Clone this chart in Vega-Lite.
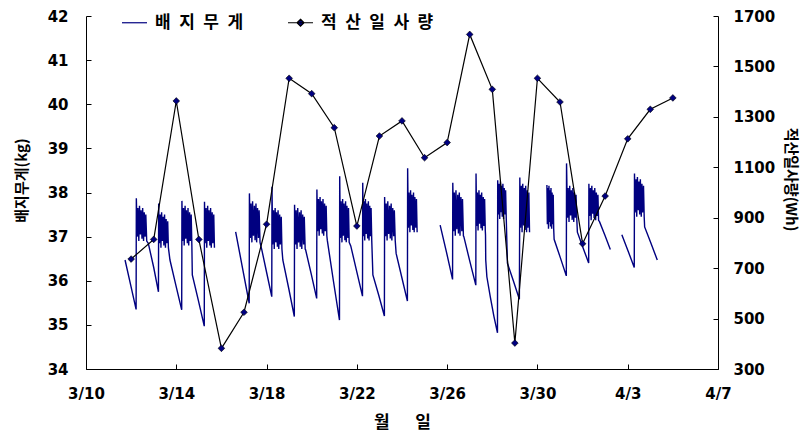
{
  "$schema": "https://vega.github.io/schema/vega-lite/v6.json",
  "autosize": {"type": "none"},
  "padding": {"left": 86, "top": 16, "right": 88, "bottom": 66},
  "width": 632,
  "height": 353,
  "background": "white",
  "config": {
    "view": {"stroke": null},
    "axis": {"grid": false, "domainColor": "#000", "tickColor": "#000", "labelColor": "#000", "titleColor": "#000", "domainWidth": 1, "tickWidth": 1}
  },
  "datasets": {
    "weight": [
      {"d":11.73,"w":36.47,"s":1},{"d":11.98,"w":35.9,"s":1},{"d":12.22,"w":35.35,"s":1},
      {"d":12.23,"w":37.87,"s":1},{"d":12.27,"w":37.0,"s":1},{"d":12.30,"w":37.65,"s":1},{"d":12.34,"w":36.9,"s":1},{"d":12.37,"w":37.7,"s":1},{"d":12.41,"w":37.05,"s":1},{"d":12.44,"w":37.6,"s":1},{"d":12.48,"w":36.95,"s":1},{"d":12.51,"w":37.65,"s":1},{"d":12.55,"w":36.9,"s":1},{"d":12.58,"w":37.55,"s":1},{"d":12.62,"w":37.0,"s":1},{"d":12.65,"w":37.5,"s":1},{"d":12.69,"w":36.9,"s":1},
      {"d":12.76,"w":36.85,"s":1},{"d":13.0,"w":36.3,"s":1},{"d":13.21,"w":35.75,"s":1},
      {"d":13.22,"w":37.75,"s":1},{"d":13.25,"w":36.85,"s":1},{"d":13.29,"w":37.5,"s":1},{"d":13.32,"w":36.75,"s":1},{"d":13.35,"w":37.55,"s":1},{"d":13.39,"w":36.9,"s":1},{"d":13.42,"w":37.45,"s":1},{"d":13.45,"w":36.8,"s":1},{"d":13.48,"w":37.5,"s":1},{"d":13.52,"w":36.75,"s":1},{"d":13.55,"w":37.4,"s":1},{"d":13.58,"w":36.85,"s":1},{"d":13.62,"w":37.35,"s":1},{"d":13.65,"w":36.75,"s":1},
      {"d":13.72,"w":36.47,"s":1},{"d":13.98,"w":35.9,"s":1},{"d":14.24,"w":35.34,"s":1},
      {"d":14.25,"w":37.81,"s":1},{"d":14.28,"w":36.9,"s":1},{"d":14.32,"w":37.65,"s":1},{"d":14.35,"w":36.8,"s":1},{"d":14.39,"w":37.7,"s":1},{"d":14.42,"w":36.95,"s":1},{"d":14.45,"w":37.6,"s":1},{"d":14.49,"w":36.85,"s":1},{"d":14.52,"w":37.65,"s":1},{"d":14.55,"w":36.8,"s":1},{"d":14.59,"w":37.55,"s":1},{"d":14.62,"w":36.9,"s":1},{"d":14.66,"w":37.5,"s":1},{"d":14.69,"w":36.8,"s":1},
      {"d":14.71,"w":36.13,"s":1},{"d":14.98,"w":35.55,"s":1},{"d":15.24,"w":34.97,"s":1},
      {"d":15.25,"w":37.79,"s":1},{"d":15.28,"w":36.85,"s":1},{"d":15.32,"w":37.65,"s":1},{"d":15.35,"w":36.75,"s":1},{"d":15.39,"w":37.7,"s":1},{"d":15.42,"w":36.9,"s":1},{"d":15.45,"w":37.6,"s":1},{"d":15.49,"w":36.8,"s":1},{"d":15.52,"w":37.65,"s":1},{"d":15.55,"w":36.75,"s":1},{"d":15.59,"w":37.55,"s":1},{"d":15.62,"w":36.85,"s":1},{"d":15.66,"w":37.5,"s":1},{"d":15.69,"w":36.75,"s":1},

      {"d":16.63,"w":37.11,"s":2},{"d":16.93,"w":36.3,"s":2},{"d":17.23,"w":35.49,"s":2},
      {"d":17.24,"w":37.98,"s":2},{"d":17.28,"w":36.97,"s":2},{"d":17.31,"w":37.75,"s":2},{"d":17.35,"w":36.87,"s":2},{"d":17.38,"w":37.8,"s":2},{"d":17.42,"w":37.02,"s":2},{"d":17.46,"w":37.7,"s":2},{"d":17.49,"w":36.92,"s":2},{"d":17.53,"w":37.75,"s":2},{"d":17.56,"w":36.87,"s":2},{"d":17.60,"w":37.65,"s":2},{"d":17.64,"w":36.97,"s":2},{"d":17.67,"w":37.6,"s":2},{"d":17.71,"w":36.87,"s":2},
      {"d":17.79,"w":36.7,"s":2},{"d":18.01,"w":36.17,"s":2},{"d":18.23,"w":35.64,"s":2},
      {"d":18.24,"w":38.13,"s":2},{"d":18.27,"w":36.82,"s":2},{"d":18.31,"w":37.6,"s":2},{"d":18.34,"w":36.72,"s":2},{"d":18.38,"w":37.65,"s":2},{"d":18.41,"w":36.87,"s":2},{"d":18.44,"w":37.55,"s":2},{"d":18.48,"w":36.77,"s":2},{"d":18.51,"w":37.6,"s":2},{"d":18.54,"w":36.72,"s":2},{"d":18.58,"w":37.5,"s":2},{"d":18.61,"w":36.82,"s":2},{"d":18.65,"w":37.45,"s":2},{"d":18.68,"w":36.72,"s":2},
      {"d":18.72,"w":36.47,"s":2},{"d":18.98,"w":35.83,"s":2},{"d":19.23,"w":35.19,"s":2},
      {"d":19.24,"w":37.72,"s":2},{"d":19.28,"w":36.82,"s":2},{"d":19.31,"w":37.6,"s":2},{"d":19.35,"w":36.72,"s":2},{"d":19.38,"w":37.65,"s":2},{"d":19.42,"w":36.87,"s":2},{"d":19.46,"w":37.55,"s":2},{"d":19.49,"w":36.77,"s":2},{"d":19.53,"w":37.6,"s":2},{"d":19.56,"w":36.72,"s":2},{"d":19.60,"w":37.5,"s":2},{"d":19.64,"w":36.82,"s":2},{"d":19.67,"w":37.45,"s":2},{"d":19.71,"w":36.72,"s":2},
      {"d":19.73,"w":36.7,"s":2},{"d":19.98,"w":36.15,"s":2},{"d":20.22,"w":35.6,"s":2},
      {"d":20.23,"w":38.07,"s":2},{"d":20.26,"w":37.12,"s":2},{"d":20.30,"w":37.85,"s":2},{"d":20.33,"w":37.02,"s":2},{"d":20.37,"w":37.9,"s":2},{"d":20.40,"w":37.17,"s":2},{"d":20.43,"w":37.8,"s":2},{"d":20.47,"w":37.07,"s":2},{"d":20.50,"w":37.85,"s":2},{"d":20.53,"w":37.02,"s":2},{"d":20.57,"w":37.75,"s":2},{"d":20.60,"w":37.12,"s":2},{"d":20.64,"w":37.7,"s":2},{"d":20.67,"w":37.02,"s":2},
      {"d":20.69,"w":36.92,"s":2},{"d":20.96,"w":36.0,"s":2},{"d":21.23,"w":35.11,"s":2},
      {"d":21.24,"w":38.37,"s":2},{"d":21.27,"w":36.97,"s":2},{"d":21.30,"w":37.8,"s":2},{"d":21.34,"w":36.87,"s":2},{"d":21.37,"w":37.85,"s":2},{"d":21.40,"w":37.02,"s":2},{"d":21.43,"w":37.75,"s":2},{"d":21.47,"w":36.92,"s":2},{"d":21.50,"w":37.8,"s":2},{"d":21.53,"w":36.87,"s":2},{"d":21.56,"w":37.7,"s":2},{"d":21.60,"w":36.97,"s":2},{"d":21.63,"w":37.65,"s":2},{"d":21.66,"w":36.87,"s":2},
      {"d":21.73,"w":36.79,"s":2},{"d":21.99,"w":36.22,"s":2},{"d":22.25,"w":35.65,"s":2},
      {"d":22.26,"w":38.22,"s":2},{"d":22.29,"w":37.01,"s":2},{"d":22.32,"w":37.8,"s":2},{"d":22.35,"w":36.91,"s":2},{"d":22.38,"w":37.85,"s":2},{"d":22.41,"w":37.06,"s":2},{"d":22.44,"w":37.75,"s":2},{"d":22.48,"w":36.96,"s":2},{"d":22.51,"w":37.8,"s":2},{"d":22.54,"w":36.91,"s":2},{"d":22.57,"w":37.7,"s":2},{"d":22.60,"w":37.01,"s":2},{"d":22.63,"w":37.65,"s":2},{"d":22.66,"w":36.91,"s":2},
      {"d":22.71,"w":36.13,"s":2},{"d":22.97,"w":35.67,"s":2},{"d":23.22,"w":35.2,"s":2},
      {"d":23.23,"w":37.9,"s":2},{"d":23.27,"w":37.01,"s":2},{"d":23.30,"w":37.75,"s":2},{"d":23.34,"w":36.91,"s":2},{"d":23.37,"w":37.8,"s":2},{"d":23.41,"w":37.06,"s":2},{"d":23.45,"w":37.7,"s":2},{"d":23.48,"w":36.96,"s":2},{"d":23.52,"w":37.75,"s":2},{"d":23.55,"w":36.91,"s":2},{"d":23.59,"w":37.65,"s":2},{"d":23.63,"w":37.01,"s":2},{"d":23.66,"w":37.6,"s":2},{"d":23.70,"w":36.91,"s":2},
      {"d":23.74,"w":36.62,"s":2},{"d":23.99,"w":36.08,"s":2},{"d":24.24,"w":35.54,"s":2},
      {"d":24.25,"w":38.55,"s":2},{"d":24.28,"w":37.2,"s":2},{"d":24.31,"w":38.0,"s":2},{"d":24.35,"w":37.1,"s":2},{"d":24.38,"w":38.05,"s":2},{"d":24.41,"w":37.25,"s":2},{"d":24.44,"w":37.95,"s":2},{"d":24.48,"w":37.15,"s":2},{"d":24.51,"w":38.0,"s":2},{"d":24.54,"w":37.1,"s":2},{"d":24.57,"w":37.9,"s":2},{"d":24.61,"w":37.2,"s":2},{"d":24.64,"w":37.85,"s":2},{"d":24.67,"w":37.1,"s":2},

      {"d":25.69,"w":37.26,"s":3},{"d":25.97,"w":36.65,"s":3},{"d":26.24,"w":36.03,"s":3},
      {"d":26.25,"w":38.22,"s":3},{"d":26.29,"w":37.12,"s":3},{"d":26.32,"w":38.0,"s":3},{"d":26.36,"w":37.02,"s":3},{"d":26.39,"w":38.05,"s":3},{"d":26.43,"w":37.17,"s":3},{"d":26.47,"w":37.95,"s":3},{"d":26.50,"w":37.07,"s":3},{"d":26.54,"w":38.0,"s":3},{"d":26.57,"w":37.02,"s":3},{"d":26.61,"w":37.9,"s":3},{"d":26.65,"w":37.12,"s":3},{"d":26.68,"w":37.85,"s":3},{"d":26.72,"w":37.02,"s":3},
      {"d":26.74,"w":37.0,"s":3},{"d":27.0,"w":36.45,"s":3},{"d":27.27,"w":35.9,"s":3},
      {"d":27.28,"w":38.43,"s":3},{"d":27.31,"w":37.24,"s":3},{"d":27.34,"w":38.0,"s":3},{"d":27.37,"w":37.14,"s":3},{"d":27.41,"w":38.05,"s":3},{"d":27.44,"w":37.29,"s":3},{"d":27.47,"w":37.95,"s":3},{"d":27.50,"w":37.19,"s":3},{"d":27.53,"w":38.0,"s":3},{"d":27.56,"w":37.14,"s":3},{"d":27.60,"w":37.9,"s":3},{"d":27.63,"w":37.24,"s":3},{"d":27.66,"w":37.85,"s":3},{"d":27.69,"w":37.14,"s":3},
      {"d":27.70,"w":37.04,"s":3},{"d":27.71,"w":36.47,"s":3},{"d":27.76,"w":36.09,"s":3},{"d":27.91,"w":35.64,"s":3},{"d":28.07,"w":35.2,"s":3},{"d":28.23,"w":34.82,"s":3},
      {"d":28.24,"w":38.28,"s":3},{"d":28.27,"w":37.5,"s":3},{"d":28.30,"w":38.2,"s":3},{"d":28.33,"w":37.4,"s":3},{"d":28.36,"w":38.25,"s":3},{"d":28.39,"w":37.55,"s":3},{"d":28.42,"w":38.15,"s":3},{"d":28.44,"w":37.45,"s":3},{"d":28.47,"w":38.2,"s":3},{"d":28.50,"w":37.4,"s":3},{"d":28.53,"w":38.1,"s":3},{"d":28.56,"w":37.5,"s":3},{"d":28.59,"w":38.05,"s":3},{"d":28.62,"w":37.4,"s":3},
      {"d":28.67,"w":36.4,"s":3},{"d":28.94,"w":35.99,"s":3},{"d":29.2,"w":35.58,"s":3},
      {"d":29.22,"w":38.34,"s":3},{"d":29.25,"w":37.2,"s":3},{"d":29.29,"w":38.15,"s":3},{"d":29.32,"w":37.1,"s":3},{"d":29.35,"w":38.2,"s":3},{"d":29.39,"w":37.25,"s":3},{"d":29.42,"w":38.1,"s":3},{"d":29.45,"w":37.15,"s":3},{"d":29.48,"w":38.15,"s":3},{"d":29.52,"w":37.1,"s":3},{"d":29.55,"w":38.05,"s":3},{"d":29.58,"w":37.2,"s":3},{"d":29.62,"w":38.0,"s":3},{"d":29.65,"w":37.1,"s":3},

      {"d":30.42,"w":38.17,"s":4},{"d":30.44,"w":37.28,"s":4},{"d":30.47,"w":38.1,"s":4},{"d":30.49,"w":37.18,"s":4},{"d":30.51,"w":38.15,"s":4},{"d":30.54,"w":37.33,"s":4},{"d":30.56,"w":38.05,"s":4},{"d":30.58,"w":37.23,"s":4},{"d":30.60,"w":38.1,"s":4},{"d":30.63,"w":37.18,"s":4},{"d":30.65,"w":38.0,"s":4},{"d":30.67,"w":37.28,"s":4},{"d":30.70,"w":37.95,"s":4},{"d":30.72,"w":37.18,"s":4},
      {"d":30.74,"w":36.94,"s":4},{"d":31.01,"w":36.53,"s":4},{"d":31.28,"w":36.11,"s":4},
      {"d":31.29,"w":38.66,"s":4},{"d":31.33,"w":37.43,"s":4},{"d":31.36,"w":38.1,"s":4},{"d":31.40,"w":37.33,"s":4},{"d":31.43,"w":38.15,"s":4},{"d":31.47,"w":37.48,"s":4},{"d":31.50,"w":38.05,"s":4},{"d":31.54,"w":37.38,"s":4},{"d":31.57,"w":38.1,"s":4},{"d":31.61,"w":37.33,"s":4},{"d":31.64,"w":38.0,"s":4},{"d":31.68,"w":37.43,"s":4},{"d":31.71,"w":37.95,"s":4},{"d":31.75,"w":37.33,"s":4},
      {"d":31.77,"w":37.1,"s":4},{"d":32.02,"w":36.75,"s":4},{"d":32.27,"w":36.4,"s":4},
      {"d":32.28,"w":38.2,"s":4},{"d":32.31,"w":37.47,"s":4},{"d":32.35,"w":38.1,"s":4},{"d":32.38,"w":37.37,"s":4},{"d":32.41,"w":38.15,"s":4},{"d":32.45,"w":37.52,"s":4},{"d":32.48,"w":38.05,"s":4},{"d":32.51,"w":37.42,"s":4},{"d":32.54,"w":38.1,"s":4},{"d":32.58,"w":37.37,"s":4},{"d":32.61,"w":38.0,"s":4},{"d":32.64,"w":37.47,"s":4},{"d":32.68,"w":37.95,"s":4},{"d":32.71,"w":37.37,"s":4},
      {"d":32.75,"w":37.34,"s":4},{"d":32.99,"w":37.03,"s":4},{"d":33.23,"w":36.71,"s":4},

      {"d":33.74,"w":37.04,"s":5},{"d":34.02,"w":36.67,"s":5},{"d":34.29,"w":36.3,"s":5},
      {"d":34.30,"w":38.43,"s":5},{"d":34.33,"w":37.55,"s":5},{"d":34.37,"w":38.3,"s":5},{"d":34.40,"w":37.45,"s":5},{"d":34.43,"w":38.35,"s":5},{"d":34.47,"w":37.6,"s":5},{"d":34.50,"w":38.25,"s":5},{"d":34.53,"w":37.5,"s":5},{"d":34.56,"w":38.3,"s":5},{"d":34.60,"w":37.45,"s":5},{"d":34.63,"w":38.2,"s":5},{"d":34.66,"w":37.55,"s":5},{"d":34.70,"w":38.15,"s":5},{"d":34.73,"w":37.45,"s":5},
      {"d":34.75,"w":37.22,"s":5},{"d":35.03,"w":36.85,"s":5},{"d":35.31,"w":36.47,"s":5}
    ],
    "solar": [
      {"d":12,"r":736},{"d":13,"r":814},{"d":14,"r":1363},{"d":15,"r":814},{"d":16,"r":382},
      {"d":17,"r":525},{"d":18,"r":874},{"d":19,"r":1453},{"d":20,"r":1392},{"d":21,"r":1257},
      {"d":22,"r":867},{"d":23,"r":1224},{"d":24,"r":1284},{"d":25,"r":1138},{"d":26,"r":1198},
      {"d":27,"r":1627},{"d":28,"r":1409},{"d":29,"r":403},{"d":30,"r":1453},{"d":31,"r":1359},
      {"d":32,"r":797},{"d":33,"r":986},{"d":34,"r":1213},{"d":35,"r":1330},{"d":36,"r":1375}
    ]
  },
  "encoding": {
    "x": {
      "field": "d", "type": "quantitative",
      "scale": {"domain": [10, 38], "nice": false, "zero": false},
      "axis": {
        "values": [10, 14, 18, 22, 26, 30, 34, 38],
        "labelExpr": "datum.value <= 31 ? '3/' + datum.value : '4/' + (datum.value - 31)",
        "title": "월\u2002\u2002\u2002일",
        "titleFont": "Noto Sans CJK KR", "titleFontSize": 17, "titleFontWeight": "bold", "titlePadding": 13,
        "labelFont": "DejaVu Sans", "labelFontSize": 15, "labelFontWeight": "bold",
        "tickSize": -5, "labelPadding": 22, "labelFlush": false
      }
    }
  },
  "layer": [
    {
      "data": {"name": "weight"},
      "mark": {"type": "line", "strokeWidth": 1.4, "interpolate": "linear"},
      "encoding": {
        "y": {
          "field": "w", "type": "quantitative",
          "scale": {"domain": [34, 42], "nice": false, "zero": false},
          "axis": {
            "values": [34, 35, 36, 37, 38, 39, 40, 41, 42],
            "title": "배지무게(kg)",
            "titleFont": "Noto Sans CJK KR", "titleFontSize": 15, "titleFontWeight": "bold", "titlePadding": 18, "titleY": 164,
            "labelFont": "DejaVu Sans", "labelFontSize": 15, "labelFontWeight": "bold",
            "tickSize": -5, "labelPadding": 23
          }
        },
        "detail": {"field": "s", "type": "nominal"},
        "color": {
          "datum": "배지무게", "type": "nominal",
          "scale": {"domain": ["배지무게", "적산일사량"], "range": ["#000080", "#000000"]},
          "legend": {
            "orient": "none", "legendX": 35, "legendY": -7, "direction": "horizontal", "title": null,
            "padding": 0, "symbolSize": 625, "symbolStrokeWidth": 1.2,
            "labelFont": "Noto Sans CJK KR", "labelFontSize": 17, "labelFontWeight": "bold", "labelColor": "#000",
            "labelOffset": 7, "columnPadding": 41,
            "labelExpr": "datum.label === '배지무게' ? '배\u2002지\u2002무\u2002게' : '적\u2002산\u2002일\u2002사\u2002량'",
            "encode": {
              "symbols": {
                "update": {
                  "shape": {"signal": "datum.value === '적산일사량' ? 'M-1,0H1M0,-0.28L0.28,0L0,0.28L-0.28,0Z' : 'M-1,0H1'"},
                  "fill": {"signal": "datum.value === '적산일사량' ? '#000080' : 'transparent'"}
                }
              }
            }
          }
        }
      }
    },
    {
      "data": {"name": "solar"},
      "encoding": {
        "y": {
          "field": "r", "type": "quantitative",
          "scale": {"domain": [300, 1700], "nice": false, "zero": false},
          "axis": {
            "orient": "right",
            "values": [300, 500, 700, 900, 1100, 1300, 1500, 1700],
            "format": "d",
            "title": "적산일사량(Wh)",
            "titleFont": "Noto Sans CJK KR", "titleFontSize": 15, "titleFontWeight": "bold", "titlePadding": 8, "titleY": 163,
            "labelFont": "DejaVu Sans", "labelFontSize": 15, "labelFontWeight": "bold",
            "tickSize": -5, "labelPadding": 20
          }
        }
      },
      "layer": [
        {
          "mark": {"type": "line", "strokeWidth": 1.2},
          "encoding": {"color": {"datum": "적산일사량", "type": "nominal"}}
        },
        {
          "mark": {"type": "point", "shape": "diamond", "filled": true, "size": 45, "fill": "#000080", "stroke": "#000", "strokeWidth": 0.6, "opacity": 1},
          "encoding": {}
        }
      ]
    }
  ],
  "resolve": {"scale": {"y": "independent"}}
}
